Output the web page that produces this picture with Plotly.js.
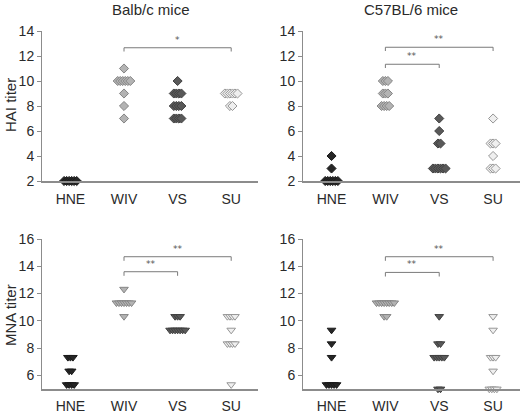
<!DOCTYPE html>
<html>
<head>
<meta charset="utf-8">
<script src="https://cdn.plot.ly/plotly-3.0.1.min.js"></script>
<style>html,body{margin:0;padding:0;background:#fff}#chart{width:520px;height:415px}</style>
</head>
<body>
<div id="chart"></div>
<script>
// ---- data ----
const categories = ['HNE', 'WIV', 'VS', 'SU'];
const panelTitles = ['Balb/c mice', 'C57BL/6 mice'];
const yTitles = ['HAI titer', 'MNA titer'];
const haiTicks = [2, 4, 6, 8, 10, 12, 14];
const mnaTicks = [6, 8, 10, 12, 14, 16];

// HAI, Balb/c
const haiBalbHNE = [2, 2, 2, 2, 2, 2];
const haiBalbWIV = [11, 10, 10, 10, 10, 10, 10, 9, 8, 7];
const haiBalbVS  = [10, 9, 9, 9, 9, 8, 8, 8, 8, 7, 7, 7, 7];
const haiBalbSU  = [9, 9, 9, 9, 9, 9, 8, 8];
// HAI, C57BL/6
const haiC57HNE = [4, 3, 2, 2, 2, 2, 2, 2];
const haiC57WIV = [10, 10, 10, 9, 9, 9, 8, 8, 8, 8];
const haiC57VS  = [7, 6, 5, 5, 3, 3, 3, 3, 3, 3];
const haiC57SU  = [7, 5, 5, 5, 4, 3, 3, 3];
// MNA, Balb/c
const mnaBalbHNE = [7.32, 7.32, 7.32, 6.32, 6.32, 5.32, 5.32, 5.32, 5.32];
const mnaBalbWIV = [12.32, 11.32, 11.32, 11.32, 11.32, 11.32, 11.32, 11.32, 10.32];
const mnaBalbVS  = [10.32, 10.32, 10.32, 9.32, 9.32, 9.32, 9.32, 9.32, 9.32, 9.32];
const mnaBalbSU  = [10.32, 10.32, 10.32, 10.32, 9.32, 8.32, 8.32, 8.32, 8.32, 5.32];
// MNA, C57BL/6
const mnaC57HNE = [9.32, 8.32, 7.32, 5.32, 5.32, 5.32, 5.32, 5.32];
const mnaC57WIV = [11.32, 11.32, 11.32, 11.32, 11.32, 11.32, 11.32, 11.32, 10.32, 10.32];
const mnaC57VS  = [10.32, 8.32, 8.32, 7.32, 7.32, 7.32, 7.32, 7.32, 5, 5];
const mnaC57SU  = [10.32, 9.32, 7.32, 7.32, 7.32, 6.32, 5, 5, 5, 5];

// significance brackets: [panel, fromCat, toCat, level, label]
const brackets = [
  [1, 2, 4, 12.66, '*'],
  [2, 2, 4, 12.7, '**'],
  [2, 2, 3, 11.34, '**'],
  [3, 2, 4, 14.7, '**'],
  [3, 2, 3, 13.6, '**'],
  [4, 2, 4, 14.7, '**'],
  [4, 2, 3, 13.55, '**']
];

// ---- styles ----
const fills = ['#262626', '#b3b3b3', '#595959', '#efefef'];
const lines = ['#1a1a1a', '#858585', '#404040', '#969696'];
const panels = [
  {data: [haiBalbHNE, haiBalbWIV, haiBalbVS, haiBalbSU], sym: 'diamond', size: 7, ax: ''},
  {data: [haiC57HNE, haiC57WIV, haiC57VS, haiC57SU], sym: 'diamond', size: 7, ax: '2'},
  {data: [mnaBalbHNE, mnaBalbWIV, mnaBalbVS, mnaBalbSU], sym: 'triangle-down', size: 7.5, ax: '3'},
  {data: [mnaC57HNE, mnaC57WIV, mnaC57VS, mnaC57SU], sym: 'triangle-down', size: 7.5, ax: '4'}
];
const step = 0.047;

function spread(vals, center) {
  const counts = {}, seen = {};
  vals.forEach(v => counts[v] = (counts[v] || 0) + 1);
  return vals.map(v => {
    const i = seen[v] = (seen[v] === undefined ? 0 : seen[v] + 1);
    return center + (i - (counts[v] - 1) / 2) * step;
  });
}

const traces = [];
panels.forEach(p => {
  p.data.forEach((vals, ci) => {
    traces.push({
      type: 'scatter', mode: 'markers',
      x: spread(vals, ci + 1), y: vals,
      xaxis: 'x' + p.ax, yaxis: 'y' + p.ax,
      cliponaxis: false, hoverinfo: 'skip', showlegend: false,
      marker: {symbol: p.sym, size: p.size, color: fills[ci], line: {color: lines[ci], width: 1}}
    });
  });
});

const font = {family: 'Liberation Sans, Arial, sans-serif', size: 14, color: '#2a2a2a'};
function xa(domain, anchor, tl) {
  return {domain: domain, anchor: anchor, range: [0.47, 4.5], tickvals: [1, 2, 3, 4], ticktext: categories,
    showline: true, linecolor: '#8c8c8c', linewidth: 1.5, ticks: 'outside', ticklen: tl,
    tickcolor: 'rgba(0,0,0,0)', showgrid: false, zeroline: false, tickfont: font, fixedrange: true};
}
function ya(domain, anchor, range, ticks) {
  return {domain: domain, anchor: anchor, range: range, tickvals: ticks,
    showline: true, linecolor: '#8c8c8c', linewidth: 1, ticks: 'outside', ticklen: 4,
    tickcolor: '#8c8c8c', showgrid: false, zeroline: false, tickfont: font, fixedrange: true};
}
const dL = [42 / 520, 258 / 520], dR = [303 / 520, 1];
const dT = [1 - 181 / 415, 1 - 31 / 415], dB = [1 - 389 / 415, 1 - 239 / 415];

const shapes = [], annotations = [];
brackets.forEach(b => {
  const ax = b[0] === 1 ? '' : String(b[0]);
  const tick = 0.3;
  shapes.push({type: 'path', xref: 'x' + ax, yref: 'y' + ax,
    path: `M${b[1]},${b[3] - tick} L${b[1]},${b[3]} L${b[2]},${b[3]} L${b[2]},${b[3] - tick}`,
    line: {color: '#7a7a7a', width: 1}});
  annotations.push({xref: 'x' + ax, yref: 'y' + ax, x: (b[1] + b[2]) / 2, y: b[3],
    text: b[4], showarrow: false, xanchor: 'center', yanchor: 'bottom', yshift: 1,
    font: {family: 'DejaVu Sans, sans-serif', size: 9, color: '#555555'}});
});
const tfont = {family: font.family, size: 15, color: '#2a2a2a'};
annotations.push(
  {xref: 'paper', yref: 'paper', x: 151 / 520, y: 1 - 10 / 415, text: panelTitles[0], showarrow: false,
   xanchor: 'center', yanchor: 'middle', font: tfont},
  {xref: 'paper', yref: 'paper', x: 411 / 520, y: 1 - 10 / 415, text: panelTitles[1], showarrow: false,
   xanchor: 'center', yanchor: 'middle', font: tfont},
  {xref: 'paper', yref: 'paper', x: 10 / 520, y: 1 - 105 / 415, text: yTitles[0], showarrow: false,
   xanchor: 'center', yanchor: 'middle', textangle: -90, font: tfont},
  {xref: 'paper', yref: 'paper', x: 10 / 520, y: 1 - 315 / 415, text: yTitles[1], showarrow: false,
   xanchor: 'center', yanchor: 'middle', textangle: -90, font: tfont}
);

const layout = {
  width: 520, height: 415, margin: {l: 0, r: 0, t: 0, b: 0},
  paper_bgcolor: '#fff', plot_bgcolor: '#fff', showlegend: false,
  xaxis: xa(dL, 'y', 5), yaxis: ya(dT, 'x', [2, 14], haiTicks),
  xaxis2: xa(dR, 'y2', 5), yaxis2: ya(dT, 'x2', [2, 14], haiTicks),
  xaxis3: xa(dL, 'y3', 4), yaxis3: ya(dB, 'x3', [5, 16], mnaTicks),
  xaxis4: xa(dR, 'y4', 4), yaxis4: ya(dB, 'x4', [5, 16], mnaTicks),
  shapes: shapes, annotations: annotations
};
Plotly.newPlot('chart', traces, layout, {staticPlot: true, displayModeBar: false});
</script>
</body>
</html>
